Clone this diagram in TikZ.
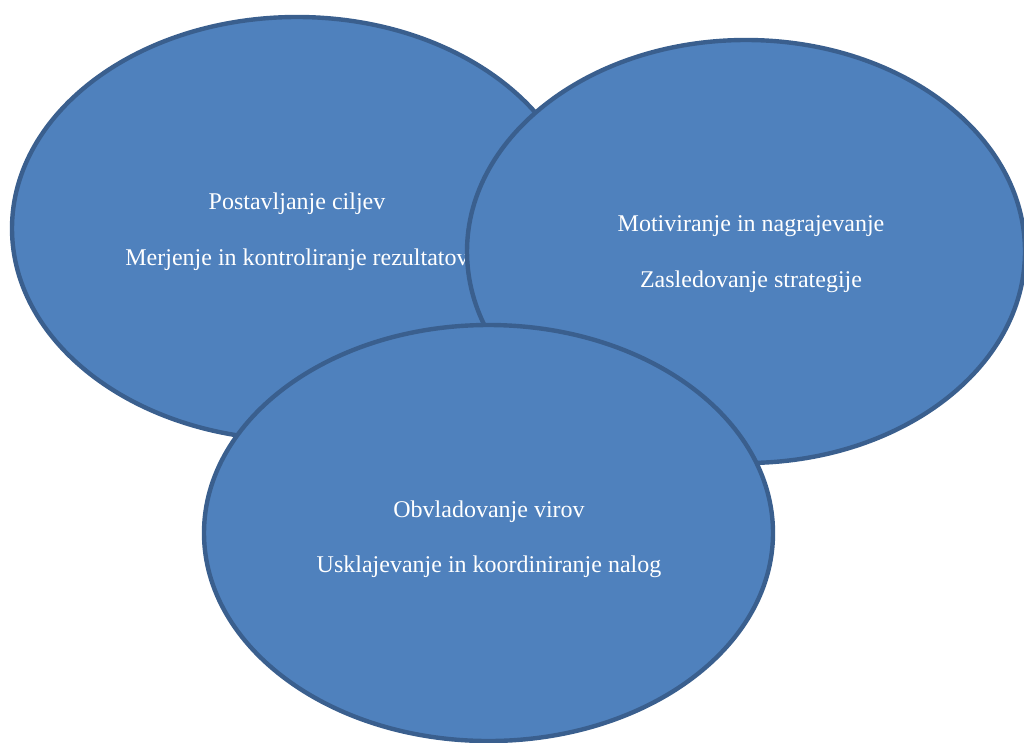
\documentclass[tikz,border=0pt]{standalone}
\usepackage{fontspec}
\setmainfont{Liberation Serif}
\usetikzlibrary{shapes.geometric}
\definecolor{blobfill}{HTML}{4F81BD}
\definecolor{blobedge}{HTML}{3A5F8E}
\begin{document}
\begin{tikzpicture}[x=1pt,y=-1pt,
  blob/.style={ellipse, draw=blobedge, fill=blobfill, line width=4.4pt, inner sep=0pt},
  label/.style={text=white, font=\fontsize{24}{28}\selectfont, inner sep=0pt, anchor=base}]
  \clip (0,0) rectangle (1024,742);
  % first circle: goals and results
  \node[blob, minimum width=570pt, minimum height=423pt] (goals) at (297,228.5) {};
  \node[label] (g1) at (297,209) {Postavljanje ciljev};
  \node[label] (g2) at (297,265) {Merjenje in kontroliranje rezultatov};
  % second circle: motivation and strategy
  \node[blob, minimum width=558pt, minimum height=423pt] (motiv) at (746,251.5) {};
  \node[label] (m1) at (751,231) {Motiviranje in nagrajevanje};
  \node[label] (m2) at (751,287) {Zasledovanje strategije};
  % third circle: resources and coordination
  \node[blob, minimum width=569pt, minimum height=416pt] (res) at (488.5,533) {};
  \node[label] (r1) at (489,517) {Obvladovanje virov};
  \node[label] (r2) at (489,572) {Usklajevanje in koordiniranje nalog};
\end{tikzpicture}
\end{document}
